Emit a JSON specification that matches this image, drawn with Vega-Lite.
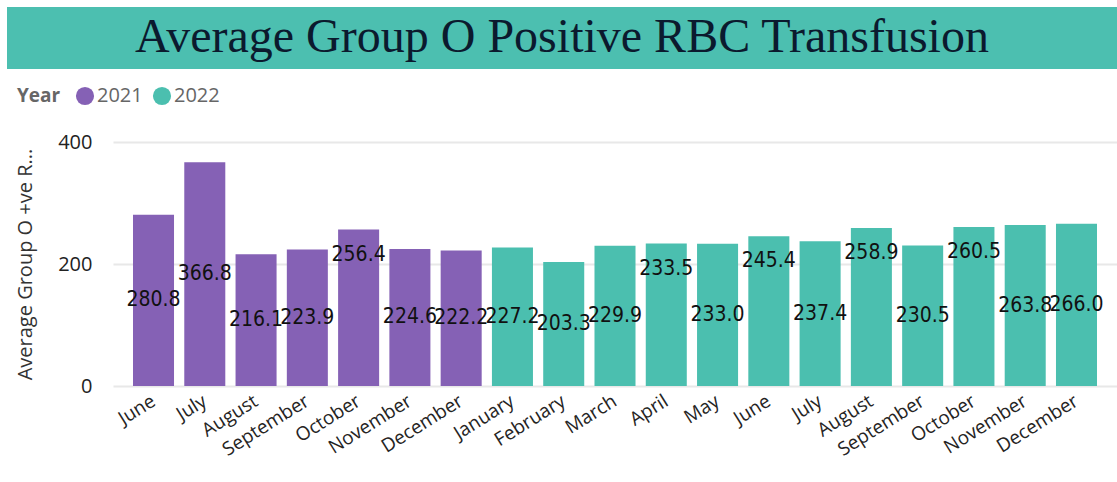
{
  "$schema": "https://vega.github.io/schema/vega-lite/v6.json",
  "padding": {"left": 7, "top": 7, "right": 0, "bottom": 0},
  "background": "white",
  "spacing": 7,
  "config": {"view": {"stroke": null}, "font": "Open Sans"},
  "resolve": {"scale": {"color": "independent"}, "legend": {"color": "independent"}},
  "vconcat": [
    {
      "width": 1004,
      "height": 62,
      "data": {"values": [{"title": "Average Group O Positive RBC Transfusion"}]},
      "layer": [
        {
          "mark": {"type": "rect", "color": "#4CBFB0"},
          "encoding": {
            "x": {"datum": 0, "type": "quantitative", "scale": {"domain": [0, 1], "range": [-106, 1004]}, "axis": null},
            "x2": {"datum": 1}
          }
        },
        {
          "mark": {"type": "text", "font": "Liberation Serif", "fontSize": 48, "color": "#0B1A2E", "align": "center", "baseline": "middle"},
          "encoding": {
            "x": {"datum": 0.5, "type": "quantitative"},
            "text": {"field": "title", "type": "nominal"}
          }
        }
      ]
    },
    {
      "width": 1004,
      "height": 244,
      "data": {
        "values": [
          {"period": "June 2021", "month": "June", "year": "2021", "value": 280.8},
          {"period": "July 2021", "month": "July", "year": "2021", "value": 366.8},
          {"period": "August 2021", "month": "August", "year": "2021", "value": 216.1},
          {"period": "September 2021", "month": "September", "year": "2021", "value": 223.9},
          {"period": "October 2021", "month": "October", "year": "2021", "value": 256.4},
          {"period": "November 2021", "month": "November", "year": "2021", "value": 224.6},
          {"period": "December 2021", "month": "December", "year": "2021", "value": 222.2},
          {"period": "January 2022", "month": "January", "year": "2022", "value": 227.2},
          {"period": "February 2022", "month": "February", "year": "2022", "value": 203.3},
          {"period": "March 2022", "month": "March", "year": "2022", "value": 229.9},
          {"period": "April 2022", "month": "April", "year": "2022", "value": 233.5},
          {"period": "May 2022", "month": "May", "year": "2022", "value": 233.0},
          {"period": "June 2022", "month": "June", "year": "2022", "value": 245.4},
          {"period": "July 2022", "month": "July", "year": "2022", "value": 237.4},
          {"period": "August 2022", "month": "August", "year": "2022", "value": 258.9},
          {"period": "September 2022", "month": "September", "year": "2022", "value": 230.5},
          {"period": "October 2022", "month": "October", "year": "2022", "value": 260.5},
          {"period": "November 2022", "month": "November", "year": "2022", "value": 263.8},
          {"period": "December 2022", "month": "December", "year": "2022", "value": 266.0}
        ]
      },
      "layer": [
        {
          "mark": {"type": "bar"},
          "encoding": {
            "x": {
              "field": "period",
              "type": "nominal",
              "sort": null,
              "scale": {
                "domain": ["June 2021", "July 2021", "August 2021", "September 2021", "October 2021", "November 2021", "December 2021", "January 2022", "February 2022", "March 2022", "April 2022", "May 2022", "June 2022", "July 2022", "August 2022", "September 2022", "October 2022", "November 2022", "December 2022"],
                "paddingInner": 0.2,
                "paddingOuter": 0.39
              },
              "axis": {
                "title": null,
                "labelExpr": "split(datum.label, ' ')[0]",
                "labelAngle": -32,
                "labelAlign": "right",
                "labelBaseline": "middle",
                "labelOffset": 0,
                "labelFontSize": 19,
                "labelColor": "#252423",
                "labelPadding": 13,
                "ticks": false,
                "domain": false
              }
            },
            "y": {
              "field": "value",
              "type": "quantitative",
              "scale": {"domain": [0, 400], "nice": false},
              "axis": {
                "values": [0, 200, 400],
                "title": "Average Group O +ve R...",
                "titleFontSize": 20,
                "titleFontWeight": "normal",
                "titleColor": "#333333",
                "titlePadding": 22,
                "labelFontSize": 20,
                "labelColor": "#222222",
                "labelPadding": 21,
                "ticks": false,
                "domain": false,
                "grid": true,
                "gridColor": "#E8E8E8",
                "gridWidth": 2
              }
            },
            "color": {
              "field": "year",
              "type": "nominal",
              "scale": {"domain": ["2021", "2022"], "range": ["#8561B5", "#4BBFAF"]},
              "legend": {
                "orient": "none",
                "legendX": -106,
                "legendY": -66,
                "padding": 10,
                "direction": "horizontal",
                "title": "Year",
                "titleOrient": "left",
                "titleFontSize": 19,
                "titleFontWeight": "bold",
                "titleColor": "#666666",
                "labelFontSize": 20,
                "labelColor": "#666666",
                "symbolType": "circle",
                "symbolSize": 330,
                "symbolStrokeWidth": 0,
                "labelOffset": 2,
                "columnPadding": 9,
                "titlePadding": 14
              }
            }
          }
        },
        {
          "transform": [{"filter": "indexof(['October 2021','April 2022','June 2022','August 2022','October 2022'], datum.period) < 0"}],
          "mark": {"type": "text", "font": "DejaVu Sans Condensed", "fontSize": 21, "color": "#111111", "baseline": "middle"},
          "encoding": {
            "x": {"field": "period", "type": "nominal", "sort": null},
            "y": {"field": "value", "type": "quantitative", "scale": {"domain": [0, 800], "nice": false}, "axis": null},
            "text": {"field": "value", "type": "quantitative", "format": ".1f"}
          }
        },
        {
          "transform": [{"filter": "indexof(['October 2021','April 2022','June 2022','August 2022','October 2022'], datum.period) >= 0"}],
          "mark": {"type": "text", "font": "DejaVu Sans Condensed", "fontSize": 21, "color": "#111111", "baseline": "middle", "dy": 25},
          "encoding": {
            "x": {"field": "period", "type": "nominal", "sort": null},
            "y": {"field": "value", "type": "quantitative", "scale": {"domain": [0, 400], "nice": false}, "axis": null},
            "text": {"field": "value", "type": "quantitative", "format": ".1f"}
          }
        }
      ],
      "resolve": {"scale": {"y": "independent"}}
    }
  ]
}
